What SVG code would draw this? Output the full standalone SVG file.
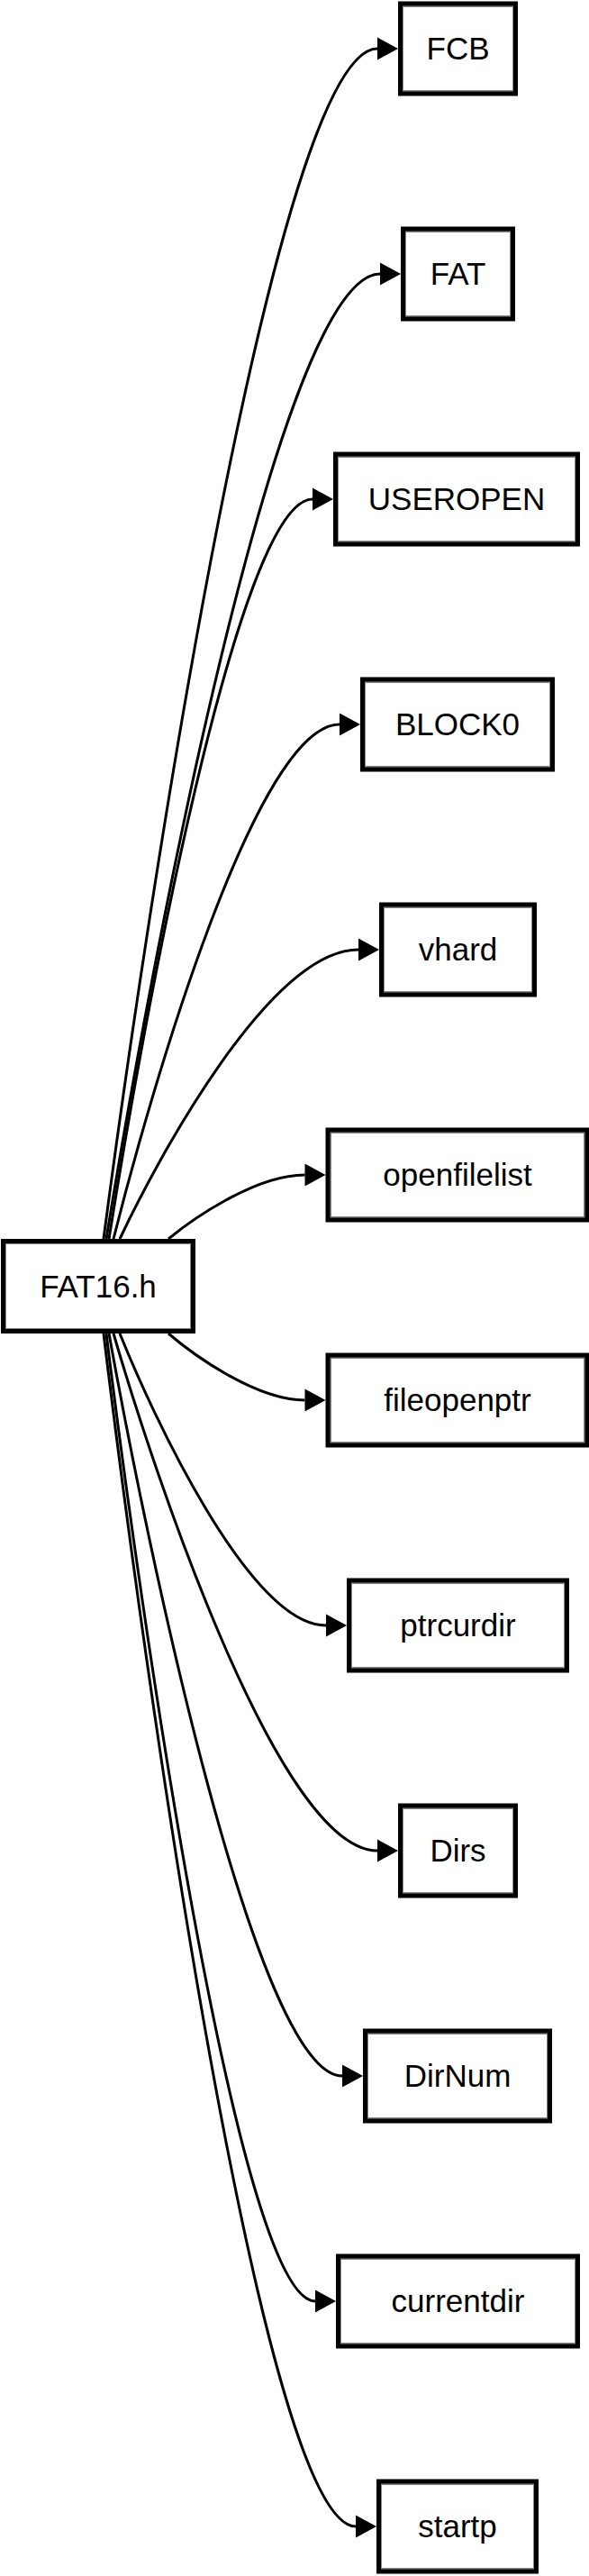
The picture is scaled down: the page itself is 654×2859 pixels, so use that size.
<svg xmlns="http://www.w3.org/2000/svg" width="654" height="2859" viewBox="0 0 654 2859">
<style>
.box{fill:#fff;stroke:#000;stroke-width:6}
.inner{fill:none;stroke:#888;stroke-width:1}
.lbl{font-family:"Liberation Sans",Arial,Helvetica,sans-serif;font-size:35px;fill:#000;text-anchor:middle}
.edge{fill:none;stroke:#000;stroke-width:3}
</style>
<defs>
<marker id="arr" markerUnits="userSpaceOnUse" markerWidth="24" markerHeight="26" refX="0" refY="12.5" orient="auto" overflow="visible">
<polygon points="0,0 23,12.5 0,25" fill="#000"/>
</marker>
</defs>
<rect width="654" height="2859" fill="#fff"/>
<g id="edges">
<path class="edge" marker-end="url(#arr)" d="M115,1375 C163.6,1005.1 306.5,54 419,54"/>
<path class="edge" marker-end="url(#arr)" d="M118,1375 C166.6,1075.1 309.5,304 422,304"/>
<path class="edge" marker-end="url(#arr)" d="M121,1375 C157.2,1145.1 263.4,554 347,554"/>
<path class="edge" marker-end="url(#arr)" d="M126,1375 C166.2,1215.1 284.1,804 377,804"/>
<path class="edge" marker-end="url(#arr)" d="M133,1375 C175.4,1285.1 300,1054 398,1054"/>
<path class="edge" marker-end="url(#arr)" d="M187,1375 C211.2,1355.1 282.4,1304 338.5,1304"/>
<path class="edge" marker-end="url(#arr)" d="M187,1480 C211.2,1500.7 282.4,1554 338.5,1554"/>
<path class="edge" marker-end="url(#arr)" d="M133,1480 C169.6,1570.7 277.3,1804 362,1804"/>
<path class="edge" marker-end="url(#arr)" d="M126,1480 C172.9,1640.7 310.6,2054 419,2054"/>
<path class="edge" marker-end="url(#arr)" d="M121,1480 C162.4,1710.7 284.2,2304 380,2304"/>
<path class="edge" marker-end="url(#arr)" d="M118,1480 C155.1,1780.7 264.2,2554 350,2554"/>
<path class="edge" marker-end="url(#arr)" d="M115,1480 C159.8,1850.7 291.4,2804 395,2804"/>
</g>
<g id="node-FAT16h">
<rect class="box" x="4" y="1378" width="210" height="99"/>
<rect class="inner" x="6.5" y="1380.5" width="205" height="94"/>
<text class="lbl" x="109" y="1439.5">FAT16.h</text>
</g>
<g id="node-FCB">
<rect class="box" x="445" y="4.5" width="127" height="99"/>
<rect class="inner" x="447.5" y="7" width="122" height="94"/>
<text class="lbl" x="508.5" y="66">FCB</text>
</g>
<g id="node-FAT">
<rect class="box" x="448" y="254.5" width="121" height="99"/>
<rect class="inner" x="450.5" y="257" width="116" height="94"/>
<text class="lbl" x="508.5" y="316">FAT</text>
</g>
<g id="node-USEROPEN">
<rect class="box" x="373" y="504.5" width="268" height="99"/>
<rect class="inner" x="375.5" y="507" width="263" height="94"/>
<text class="lbl" x="507" y="566">USEROPEN</text>
</g>
<g id="node-BLOCK0">
<rect class="box" x="403" y="754.5" width="210" height="99"/>
<rect class="inner" x="405.5" y="757" width="205" height="94"/>
<text class="lbl" x="508" y="816">BLOCK0</text>
</g>
<g id="node-vhard">
<rect class="box" x="424" y="1004.5" width="169" height="99"/>
<rect class="inner" x="426.5" y="1007" width="164" height="94"/>
<text class="lbl" x="508.5" y="1066">vhard</text>
</g>
<g id="node-openfilelist">
<rect class="box" x="364.5" y="1254.5" width="287" height="99"/>
<rect class="inner" x="367" y="1257" width="282" height="94"/>
<text class="lbl" x="508" y="1316">openfilelist</text>
</g>
<g id="node-fileopenptr">
<rect class="box" x="364.5" y="1504.5" width="287" height="99"/>
<rect class="inner" x="367" y="1507" width="282" height="94"/>
<text class="lbl" x="508" y="1566">fileopenptr</text>
</g>
<g id="node-ptrcurdir">
<rect class="box" x="388" y="1754.5" width="241" height="99"/>
<rect class="inner" x="390.5" y="1757" width="236" height="94"/>
<text class="lbl" x="508.5" y="1816">ptrcurdir</text>
</g>
<g id="node-Dirs">
<rect class="box" x="445" y="2004.5" width="127" height="99"/>
<rect class="inner" x="447.5" y="2007" width="122" height="94"/>
<text class="lbl" x="508.5" y="2066">Dirs</text>
</g>
<g id="node-DirNum">
<rect class="box" x="406" y="2254.5" width="204" height="99"/>
<rect class="inner" x="408.5" y="2257" width="199" height="94"/>
<text class="lbl" x="508" y="2316">DirNum</text>
</g>
<g id="node-currentdir">
<rect class="box" x="376" y="2504.5" width="265" height="99"/>
<rect class="inner" x="378.5" y="2507" width="260" height="94"/>
<text class="lbl" x="508.5" y="2566">currentdir</text>
</g>
<g id="node-startp">
<rect class="box" x="421" y="2754.5" width="174" height="99"/>
<rect class="inner" x="423.5" y="2757" width="169" height="94"/>
<text class="lbl" x="508" y="2816">startp</text>
</g>
</svg>
